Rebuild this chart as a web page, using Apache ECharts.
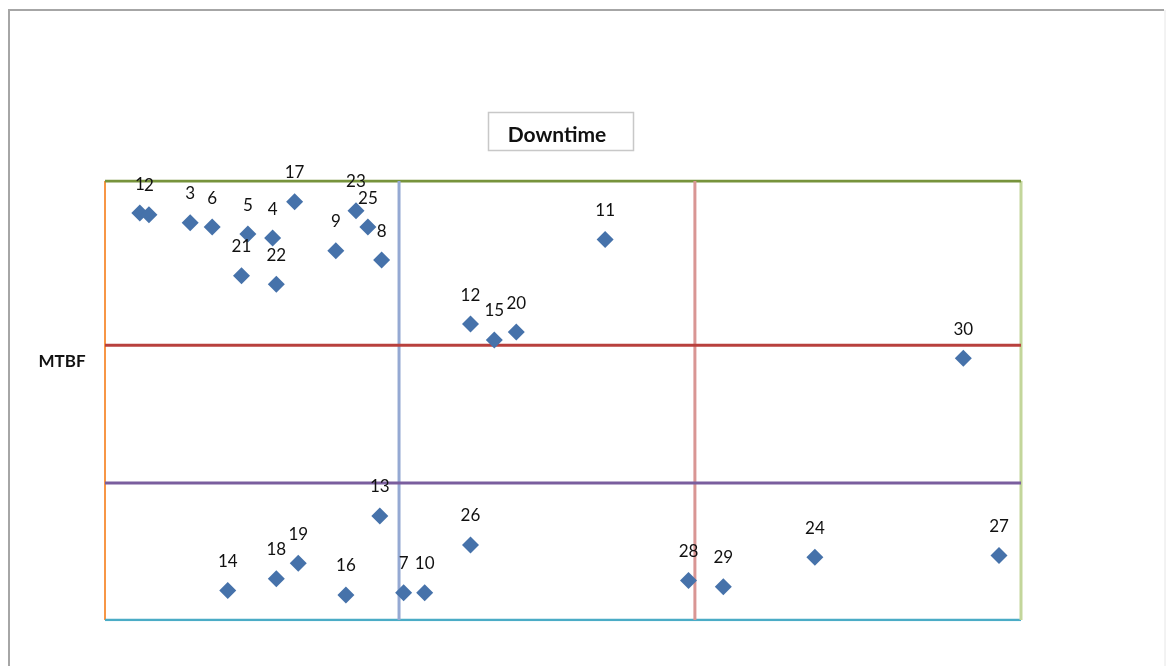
<!DOCTYPE html>
<html>
<head>
<meta charset="utf-8">
<script src="https://cdn.jsdelivr.net/npm/echarts@6/dist/echarts.min.js"></script>
<style>html,body{margin:0;padding:0;background:#fff}#c{width:1166px;height:666px}</style>
</head>
<body>
<div id="c"></div>
<script>
// Point labels (equipment numbers)
const pointIds = [1,2,3,4,5,6,7,8,9,10,11,12,13,14,15,16,17,18,19,20,21,22,23,24,25,26,27,28,29,30];
// Downtime (x) values
const downtime = [3.8,4.8,9.3,18.3,15.6,11.7,32.6,30.2,25.2,34.9,54.6,39.9,30.0,13.4,42.5,26.3,20.7,18.7,21.1,44.9,14.9,18.7,27.4,77.5,28.7,39.9,97.6,63.7,67.5,93.7];
// MTBF (y) values
const mtbf = [92.7,92.3,90.5,87.0,87.9,89.5,6.2,82.0,84.1,6.2,86.7,67.4,23.7,6.7,63.8,5.7,95.3,9.4,12.9,65.6,78.4,76.5,93.2,14.3,89.5,17.1,14.7,9.0,7.6,59.6];
// Axis range and quadrant split values
const xRange = [0, 100];
const yRange = [0, 100];
const xSplits = [32.1, 64.4];
const ySplits = [31.2, 62.6];

const chart = echarts.init(document.getElementById('c'));
const points = pointIds.map((id, i) => [downtime[i], mtbf[i], id]);

function hLine(y, color, w, z) {
  return {type:'line', data:[[xRange[0], y],[xRange[1], y]], symbol:'none', silent:true, z:z,
    lineStyle:{color:color, width:w}, animation:false};
}
function vLine(x, color, w, z) {
  return {type:'line', data:[[x, yRange[0]],[x, yRange[1]]], symbol:'none', silent:true, z:z,
    lineStyle:{color:color, width:w}, animation:false};
}

chart.setOption({
  animation:false,
  grid:{left:105, right:145, top:181, bottom:46},
  xAxis:{type:'value', min:xRange[0], max:xRange[1], show:false},
  yAxis:{type:'value', min:yRange[0], max:yRange[1], show:false},
  graphic:[
    {type:'polyline', shape:{points:[[9,700],[9,10],[1164,10]]}, style:{stroke:'#a6a6a6', lineWidth:2, fill:null}},
    {type:'line', shape:{x1:1165,y1:10,x2:1165,y2:666}, style:{stroke:'#e6e6e6', lineWidth:1}},
    {type:'rect', shape:{x:488.5,y:112.5,width:145,height:38}, style:{stroke:'#c8c8c8', lineWidth:1.5, fill:'#fff'}},
    {type:'text', x:557, y:135, style:{text:'Downtime', font:'bold 21px Lato', fill:'#111', align:'center', verticalAlign:'middle'}},
    {type:'text', x:62, y:362, style:{text:'MTBF', font:'bold 17px Lato', fill:'#111', align:'center', verticalAlign:'middle'}}
  ],
  series:[
    vLine(xRange[0], '#f79646', 2, 1),
    hLine(yRange[0], '#4bacc6', 2.5, 1),
    vLine(xRange[1], '#c3d69b', 3, 1),
    hLine(yRange[1], '#77933c', 3, 2),
    vLine(xSplits[0], '#95a9d3', 3, 2),
    vLine(xSplits[1], '#d99694', 3, 2),
    hLine(ySplits[1], '#b8403d', 3, 3),
    hLine(ySplits[0], '#7a5e9e', 3, 3),
    {
      type:'scatter', data:points, symbol:'diamond', symbolSize:17, z:10,
      itemStyle:{color:'#4672aa', opacity:1},
      label:{show:true, position:'top', distance:12, formatter:p=>String(p.data[2]),
        fontSize:17, fontFamily:'Lato', color:'#111'}
    }
  ]
});
</script>
</body>
</html>
